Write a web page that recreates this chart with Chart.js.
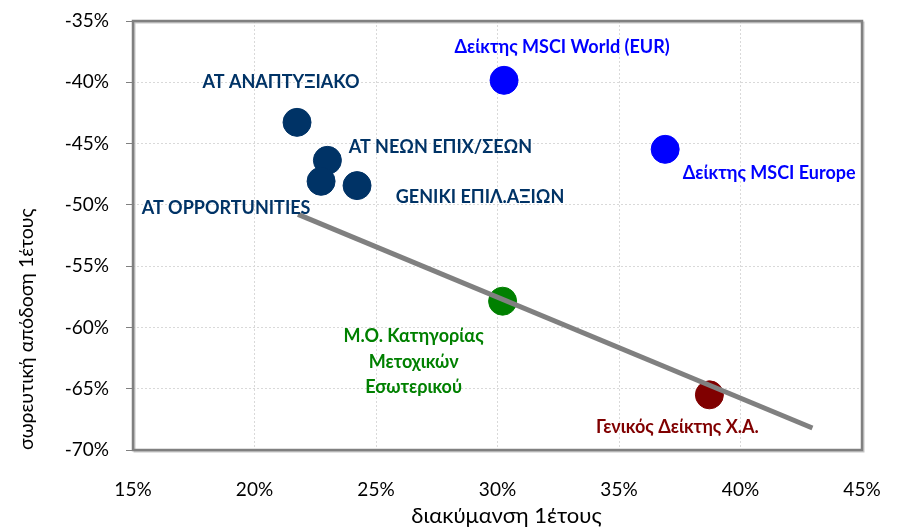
<!DOCTYPE html>
<html>
<head>
<meta charset="utf-8">
<script src="https://cdn.jsdelivr.net/npm/chart.js@4.4.1/dist/chart.umd.min.js"></script>
<style>
  html, body { margin: 0; padding: 0; background: #ffffff; }
  #wrap { width: 899px; height: 529px; position: relative; }
</style>
</head>
<body>
<div id="wrap"><canvas id="c" width="899" height="529"></canvas></div>
<script>
// ---- data ----
const names = [
  ['ΑΤ ΑΝΑΠΤΥΞΙΑΚΟ'],
  ['ΑΤ ΝΕΩΝ ΕΠΙΧ/ΣΕΩΝ'],
  ['ΑΤ OPPORTUNITIES'],
  ['GENIKI ΕΠΙΛ.ΑΞΙΩΝ'],
  ['Δείκτης MSCI World (EUR)'],
  ['Δείκτης MSCI Europe'],
  ['Μ.Ο. Κατηγορίας', 'Μετοχικών', 'Εσωτερικού'],
  ['Γενικός Δείκτης Χ.Α.']
];
const volatility = [21.75, 23.0, 22.74, 24.22, 30.27, 36.9, 30.21, 38.72];   // x, %
const returns1y  = [-43.27, -46.37, -48.08, -48.43, -39.84, -45.47, -57.86, -65.5]; // y, %
const trendX = [21.79, 42.96];
const trendY = [-50.78, -68.2];
const xTicks = [15, 20, 25, 30, 35, 40, 45];
const yTicks = [-35, -40, -45, -50, -55, -60, -65, -70];
const xTitle = 'διακύμανση 1έτους';
const yTitle = 'σωρευτική απόδοση 1έτους';

// ---- styles ----
const pointColors = ['#003366', '#003366', '#003366', '#003366', '#0000FF', '#0000FF', '#008000', '#800000'];
const labelOffsets = [[-16, -40], [113, -13], [-95, 27], [123, 12], [58, -33], [104, 24], [-89, 35], [-32, 32]];
const labelLineHeight = 25.5;

const FONT = 'Lato, "Open Sans", "DejaVu Sans", sans-serif';

const pts = volatility.map((v, i) => ({ x: v, y: returns1y[i] }));
const trend = trendX.map((v, i) => ({ x: v, y: trendY[i] }));

const labelPlugin = {
  id: 'pointLabels',
  afterDatasetsDraw(chart) {
    const ctx = chart.ctx;
    const meta = chart.getDatasetMeta(1);
    ctx.save();
    ctx.font = 'bold 18px ' + FONT;
    ctx.textAlign = 'center';
    ctx.textBaseline = 'middle';
    meta.data.forEach((el, i) => {
      const lines = names[i];
      const [dx, dy] = labelOffsets[i];
      ctx.fillStyle = pointColors[i];
      lines.forEach((t, k) => {
        ctx.fillText(t, el.x + dx, el.y + dy + k * labelLineHeight);
      });
    });
    // x axis title
    const a = chart.chartArea;
    ctx.font = '22px ' + FONT;
    ctx.fillStyle = '#000000';
    ctx.fillText(xTitle, (a.left + a.right) / 2 + 9, a.bottom + 66);
    ctx.restore();
  }
};

const framePlugin = {
  id: 'frame',
  beforeDatasetsDraw(chart) {
    const { ctx, chartArea: a } = chart;
    ctx.save();
    ctx.strokeStyle = 'rgba(160,160,160,0.6)';
    ctx.lineWidth = 2;
    ctx.strokeRect(a.left + 1.5, a.top + 1.5, a.right - a.left, a.bottom - a.top);
    ctx.strokeStyle = '#808080';
    ctx.lineWidth = 2.5;
    ctx.strokeRect(a.left, a.top, a.right - a.left, a.bottom - a.top);
    ctx.restore();
  }
};

function zeroPad(s) {
  s.paddingLeft = 0; s.paddingRight = 0; s.paddingTop = 0; s.paddingBottom = 0;
}

new Chart(document.getElementById('c'), {
  type: 'scatter',
  data: {
    datasets: [
      {
        type: 'line',
        data: trend,
        borderColor: '#808080',
        borderWidth: 5,
        pointRadius: 0,
        fill: false,
        order: 0
      },
      {
        data: pts,
        backgroundColor: pointColors,
        borderColor: pointColors,
        pointRadius: 14,
        pointHoverRadius: 14,
        order: 1
      }
    ]
  },
  options: {
    responsive: false,
    animation: false,
    events: [],
    layout: { padding: { left: 0, right: 37, top: 21, bottom: 0 } },
    plugins: { legend: { display: false }, tooltip: { enabled: false } },
    scales: {
      x: {
        type: 'linear',
        min: 15, max: 45,
        afterBuildTicks: s => { s.ticks = xTicks.map(v => ({ value: v })); },
        afterFit: s => { s.height = 79; zeroPad(s); },
        grid: { color: '#d9d9d9', lineWidth: 1, drawTicks: false },
        border: { display: false, dash: [2, 2] },
        ticks: {
          padding: 28,
          color: '#000000',
          font: { family: FONT, size: 19 },
          callback: v => v + '%'
        },
        title: { display: false }
      },
      y: {
        type: 'linear',
        min: -70, max: -35,
        afterBuildTicks: s => { s.ticks = yTicks.map(v => ({ value: v })); },
        afterFit: s => { s.width = 133; zeroPad(s); },
        grid: { color: '#d9d9d9', lineWidth: 1, drawTicks: true, tickLength: 7, tickColor: '#808080', tickBorderDash: [] },
        border: { display: false, dash: [2, 2] },
        ticks: {
          padding: 17,
          color: '#000000',
          font: { family: FONT, size: 19 },
          callback: v => v + '%'
        },
        title: {
          display: true,
          text: yTitle,
          color: '#000000',
          align: 'start',
          font: { family: FONT, size: 19.5 },
          padding: { top: 15, bottom: 0 }
        }
      }
    }
  },
  plugins: [framePlugin, labelPlugin]
});
</script>
</body>
</html>
